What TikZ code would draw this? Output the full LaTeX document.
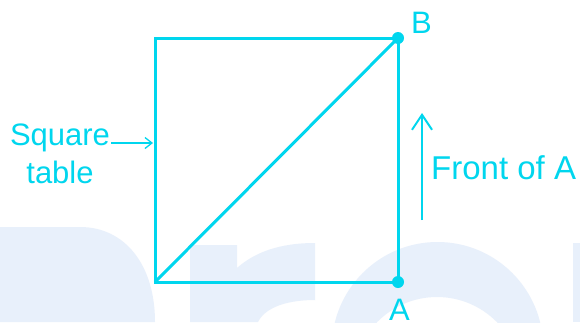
\documentclass[tikz,border=0pt]{standalone}
\usepackage{fontspec}
\setmainfont{Liberation Sans}
\usetikzlibrary{arrows.meta}
\definecolor{cyanline}{RGB}{0,214,238}
\definecolor{wmark}{RGB}{232,240,251}
\tikzset{
  edge/.style={draw=cyanline, line width=3pt, line join=miter},
  dotpt/.style={circle, fill=cyanline, inner sep=0pt, minimum size=12pt},
  lbl/.style={text=cyanline, inner sep=0pt, font=\fontsize{31}{36}\selectfont},
  pointer/.style={draw=cyanline, line width=1.3pt, -{Straight Barb[length=7pt,width=11pt]}},
  frontarrow/.style={draw=cyanline, line width=2pt, -{Straight Barb[length=15pt,width=20pt,line width=2pt]}},
  wm/.style={fill=wmark, draw=none}
}
\begin{document}
\begin{tikzpicture}[x=1pt,y=-1pt]
\useasboundingbox (0,0) rectangle (580,322);
\fill[white] (0,0) rectangle (580,322);
% watermark
\begin{scope}
\clip (0,0) rectangle (580,322);
\fill[wm] (0,227) -- (80,227) .. controls (125,227) and (155,265) .. (155,322) -- (0,322) -- cycle;
\fill[wm] (190,245) -- (237,245) -- (237,268) .. controls (255,252) and (280,243) .. (315,243) -- (315,300) .. controls (290,300) and (266,306) .. (258,322) -- (190,322) -- cycle;
\fill[wm, even odd rule] (437.5,347.7) circle[radius=105.7] (437,381) circle[radius=84];
\fill[wm] (573,243) rectangle (580,322);
\end{scope}
% square table
\coordinate (D) at (155,282);
\coordinate (A) at (398,282);
\coordinate (B) at (398,38);
\coordinate (C) at (155,38);
\draw[edge] (D) -- (A) -- (B) -- (C) -- cycle;
\draw[edge] (D) -- (B);
\node[dotpt] (Adot) at (A) {};
\node[dotpt] (Bdot) at (B) {};
\node[lbl, anchor=base west] (Blbl) at (411,33) {B};
\node[lbl, anchor=base west] (Albl) at (389,320) {A};
% square table label
\node[lbl, anchor=base] (sq) at (60,145) {Square};
\node[lbl, anchor=base] (tb) at (60,183) {table};
\coordinate (sqend) at (153,143);
\draw[pointer] (sq.east |- sqend) ++(1,0) -- (sqend);
% front of A
\coordinate (ftail) at (422,220);
\coordinate (ftip) at (422,113);
\draw[frontarrow] (ftail) -- (ftip);
\node[lbl, anchor=base west, font=\fontsize{33}{38}\selectfont] (front) at (431,179) {Front of A};
\end{tikzpicture}
\end{document}
